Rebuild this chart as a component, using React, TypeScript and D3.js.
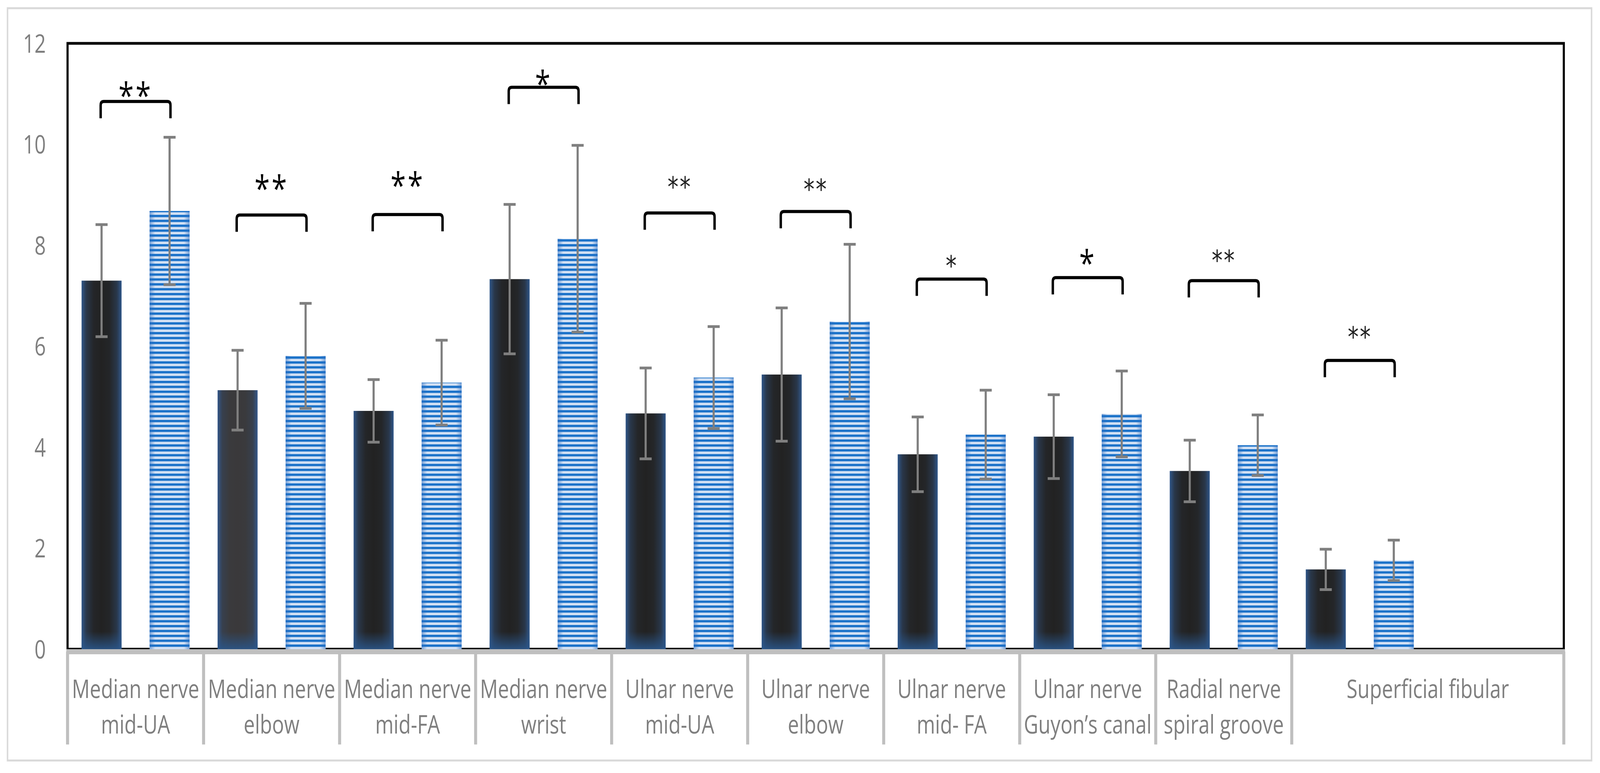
import * as d3 from "d3";

// group means and SD
const categoryLines: string[][] = [
  ["Median nerve", "mid-UA"],
  ["Median nerve", "elbow"],
  ["Median nerve", "mid-FA"],
  ["Median nerve", "wrist"],
  ["Ulnar nerve", "mid-UA"],
  ["Ulnar nerve", "elbow"],
  ["Ulnar nerve", "mid- FA"],
  ["Ulnar nerve", "Guyon\u2019s canal"],
  ["Radial nerve", "spiral groove"],
  ["Superficial fibular"],
];
const darkMean = [7.3, 5.13, 4.72, 7.33, 4.67, 5.44, 3.86, 4.21, 3.53, 1.58];
const darkSd = [1.11, 0.79, 0.62, 1.48, 0.9, 1.32, 0.74, 0.83, 0.61, 0.4];
const blueMean = [8.68, 5.81, 5.28, 8.13, 5.38, 6.49, 4.25, 4.66, 4.04, 1.76];
const blueSd = [1.46, 1.04, 0.84, 1.85, 1.01, 1.53, 0.88, 0.85, 0.6, 0.4];
const stars = ["**", "**", "**", "*", "**", "**", "*", "*", "**", "**"];
const bracketLevel = [10.85, 8.6, 8.61, 11.13, 8.64, 8.67, 7.33, 7.36, 7.3, 5.72];
const starLevel = [11.1, 9.26, 9.32, 11.33, 9.27, 9.23, 7.71, 7.78, 7.82, 6.3];
const yTicks = [0, 2, 4, 6, 8, 10, 12];

// the x axis has one empty slot after the last nerve
const slots = [...categoryLines.map((_, i) => `c${i}`), "empty"];
const thinStars = new Set([4, 5, 6, 8, 9]);

const W = 5305;
const H = 1979;
const plot = { left: 224, right: 5185, top: 111, bottom: 1662 };
const FONT = "'Open Sans', 'Noto Sans', sans-serif";
const GRAY = "#7f7f7f";
const AXIS = "#bfbfbf";

export default function App() {
  const x = d3.scaleBand<string>().domain(slots).range([plot.left, plot.right]);
  const xs = d3
    .scaleBand<string>()
    .domain(["dark", "blue"])
    .range([0, x.bandwidth()])
    .paddingInner(0.4118)
    .paddingOuter(0.2059);
  const y = d3.scaleLinear().domain([0, 12]).range([plot.bottom, plot.top]);
  const bw = xs.bandwidth();
  const cap = 20;

  const labelCells = categoryLines.map((lines, i) => {
    const x0 = x(slots[i])!;
    const x1 = i === categoryLines.length - 1 ? plot.right : x0 + x.bandwidth();
    return { lines, cx: (x0 + x1) / 2 };
  });
  // dividers between label cells (the last cell spans two slots)
  const dividers = slots
    .map((s) => x(s)!)
    .filter((_, i) => i !== slots.length - 1)
    .concat([plot.right]);

  const errBar = (cx: number, m: number, sd: number, key: string) => (
    <g key={key} stroke={GRAY} strokeWidth={7} fill="none">
      <line x1={cx} x2={cx} y1={y(m + sd)} y2={y(m - sd)} />
      <line x1={cx - cap} x2={cx + cap} y1={y(m + sd)} y2={y(m + sd)} />
      <line x1={cx - cap} x2={cx + cap} y1={y(m - sd)} y2={y(m - sd)} />
    </g>
  );

  return (
    <svg
      viewBox={`0 0 ${W} ${H}`}
      preserveAspectRatio="none"
      style={{ position: "fixed", left: 0, top: 0, width: "100vw", height: "100vh", display: "block" }}
    >
      <defs>
        <linearGradient id="darkGrad" x1="0" x2="1" y1="0" y2="0">
          <stop offset="0%" stopColor="#2f5689" />
          <stop offset="12%" stopColor="#29374a" />
          <stop offset="30%" stopColor="#242629" />
          <stop offset="50%" stopColor="#222222" />
          <stop offset="70%" stopColor="#242629" />
          <stop offset="88%" stopColor="#29374a" />
          <stop offset="100%" stopColor="#2f5689" />
        </linearGradient>
        <linearGradient id="darkGrad2" x1="0" x2="1" y1="0" y2="0">
          <stop offset="0%" stopColor="#34578a" />
          <stop offset="12%" stopColor="#37404e" />
          <stop offset="30%" stopColor="#3a3a3d" />
          <stop offset="50%" stopColor="#3a393b" />
          <stop offset="70%" stopColor="#3a3a3d" />
          <stop offset="88%" stopColor="#37404e" />
          <stop offset="100%" stopColor="#34578a" />
        </linearGradient>
        <linearGradient id="darkGlow" x1="0" x2="0" y1="0" y2="1">
          <stop offset="0%" stopColor="#2a5588" stopOpacity={0} />
          <stop offset="100%" stopColor="#2a5588" stopOpacity={0.9} />
        </linearGradient>
        <pattern id="stripes" patternUnits="userSpaceOnUse" width={20} height={12.5}>
          <rect width={20} height={12.5} fill="#d3e1f4" />
          <rect width={20} height={6} fill="#1b72c9" />
        </pattern>
        <linearGradient id="blueEdge" x1="0" x2="1" y1="0" y2="0">
          <stop offset="0%" stopColor="#2a6cbf" stopOpacity={0.55} />
          <stop offset="14%" stopColor="#2a6cbf" stopOpacity={0} />
          <stop offset="86%" stopColor="#2a6cbf" stopOpacity={0} />
          <stop offset="100%" stopColor="#2a6cbf" stopOpacity={0.55} />
        </linearGradient>
      </defs>

      <rect x={0} y={0} width={W} height={H} fill="#fff" />
      <rect x={25} y={21} width={5252} height={1926} fill="none" stroke="#d9d9d9" strokeWidth={5} />

      {/* plot frame */}
      <rect
        x={plot.left}
        y={plot.top}
        width={plot.right - plot.left}
        height={plot.bottom - plot.top}
        fill="none"
        stroke="#000"
        strokeWidth={7}
      />

      {/* y tick labels */}
      {yTicks.map((t) => (
        <text
          key={t}
          x={152}
          y={y(t) + 24}
          textAnchor="end"
          fontFamily={FONT}
          fontSize={66}
          fill={GRAY}
        >
          {t}
        </text>
      ))}

      {/* bars */}
      {categoryLines.map((_, i) => {
        const x0 = x(slots[i])!;
        const dx = x0 + xs("dark")!;
        const bx = x0 + xs("blue")!;
        const dTop = y(darkMean[i]);
        const bTop = y(blueMean[i]);
        return (
          <g key={i}>
            <rect
              x={dx}
              y={dTop}
              width={bw}
              height={plot.bottom - dTop}
              fill={i === 1 ? "url(#darkGrad2)" : "url(#darkGrad)"}
            />
            <rect
              x={dx}
              y={Math.max(dTop, plot.bottom - 45)}
              width={bw}
              height={Math.min(45, plot.bottom - dTop)}
              fill="url(#darkGlow)"
            />
            <rect x={bx} y={bTop} width={bw} height={plot.bottom - bTop} fill="url(#stripes)" />
            <rect x={bx} y={bTop} width={bw} height={plot.bottom - bTop} fill="url(#blueEdge)" />
          </g>
        );
      })}

      {/* error bars */}
      {categoryLines.map((_, i) => {
        const x0 = x(slots[i])!;
        return (
          <g key={`e${i}`}>
            {errBar(x0 + xs("dark")! + bw / 2, darkMean[i], darkSd[i], "d")}
            {errBar(x0 + xs("blue")! + bw / 2, blueMean[i], blueSd[i], "b")}
          </g>
        );
      })}

      {/* significance brackets */}
      {categoryLines.map((_, i) => {
        const x0 = x(slots[i])!;
        const l = x0 + xs("dark")! + bw / 2 - 3;
        const r = x0 + xs("blue")! + bw / 2 + 3;
        const top = y(bracketLevel[i]);
        const leg = top + 43;
        const rr = 10;
        const d = `M${l},${leg} L${l},${top + rr} Q${l},${top} ${l + rr},${top} L${r - rr},${top} Q${r},${top} ${r},${top + rr} L${r},${leg}`;
        const thin = thinStars.has(i);
        const fs = thin ? 72 : 92;
        return (
          <g key={`s${i}`}>
            <path d={d} fill="none" stroke="#000" strokeWidth={8} />
            <text
              x={x0 + x.bandwidth() / 2}
              y={y(starLevel[i]) + fs * 0.55}
              textAnchor="middle"
              fontFamily={thin ? "'DejaVu Sans', sans-serif" : FONT}
              fontSize={fs}
              fill={thin ? "#222" : "#000"}
              letterSpacing={thin ? 4 : 6}
            >
              {stars[i]}
            </text>
          </g>
        );
      })}

      {/* category axis */}
      <line x1={plot.left - 4} x2={plot.right + 4} y1={1668.5} y2={1668.5} stroke={AXIS} strokeWidth={13} />
      {dividers.map((dx, i) => (
        <line key={i} x1={dx} x2={dx} y1={1668} y2={1906} stroke={AXIS} strokeWidth={10} />
      ))}
      {labelCells.map((c, i) => (
        <text key={i} textAnchor="middle" fontFamily={FONT} fontSize={66} fill={GRAY}>
          {c.lines.map((ln, k) => (
            <tspan key={k} x={c.cx} y={1787 + k * 91}>
              {ln}
            </tspan>
          ))}
        </text>
      ))}
    </svg>
  );
}
